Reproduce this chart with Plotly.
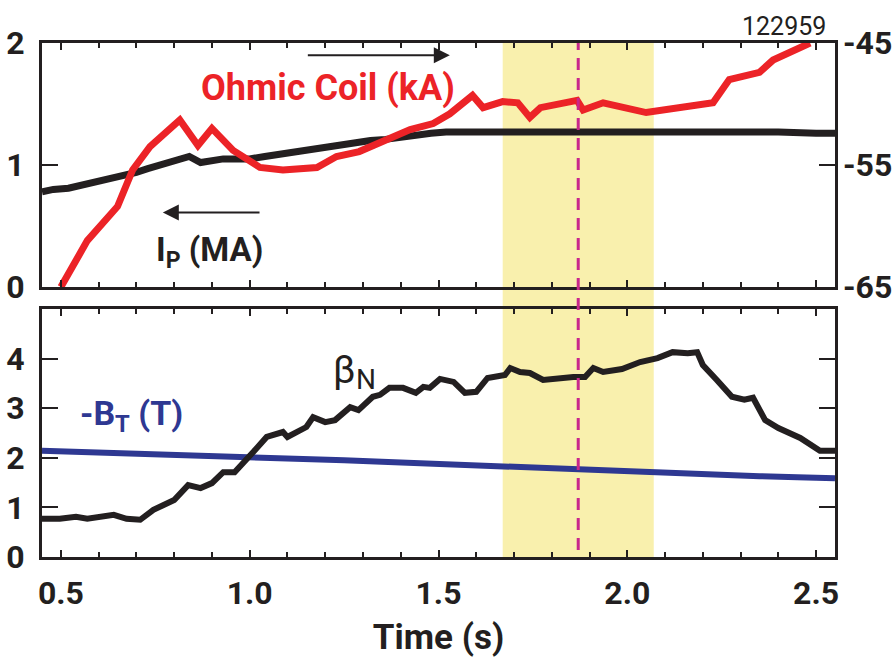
import plotly.graph_objects as go

# ---------------- data ----------------
ip_t = [0.45, 0.48, 0.52, 0.55, 0.58, 0.62, 0.65, 0.68, 0.70, 0.73, 0.76, 0.79, 0.82, 0.84, 0.87,
        0.90, 0.93, 0.96, 1.00, 1.04, 1.08, 1.12, 1.16, 1.20, 1.24, 1.28, 1.32, 1.36, 1.40, 1.44,
        1.48, 1.52, 1.56, 1.60, 1.70, 1.80, 1.90, 2.00, 2.10, 2.20, 2.30, 2.40, 2.50, 2.55]
ip_v = [0.78, 0.80, 0.81, 0.83, 0.85, 0.88, 0.90, 0.92, 0.94, 0.97, 1.00, 1.02, 1.05, 1.07, 1.02,
        1.04, 1.05, 1.05, 1.05, 1.07, 1.09, 1.11, 1.13, 1.15, 1.16, 1.18, 1.20, 1.21, 1.23, 1.25,
        1.26, 1.27, 1.27, 1.28, 1.27, 1.27, 1.28, 1.27, 1.27, 1.27, 1.27, 1.27, 1.26, 1.26]

oh_t = [0.50, 0.57, 0.65, 0.69, 0.736, 0.815, 0.863, 0.90, 0.956, 0.99, 1.027, 1.088, 1.178,
        1.23, 1.29, 1.425, 1.486, 1.53, 1.59, 1.618, 1.67, 1.71, 1.742, 1.77, 1.867, 1.883,
        1.936, 2.05, 2.21, 2.227, 2.27, 2.35, 2.386, 2.484]
oh_v = [-65.0, -61.2, -58.4, -55.4, -53.5, -51.3, -53.4, -52.0, -53.8, -54.4, -55.2, -55.4, -55.2,
        -54.3, -53.9, -52.1, -51.6, -50.8, -49.3, -50.3, -49.8, -49.9, -51.1, -50.3, -49.7, -50.5,
        -49.9, -50.7, -50.1, -49.9, -48.0, -47.4, -46.4, -45.0]

bn_t = [0.45, 0.497, 0.54, 0.57, 0.64, 0.674, 0.71, 0.745, 0.80, 0.837, 0.87, 0.90, 0.93, 0.96,
        1.01, 1.045, 1.088, 1.10, 1.15, 1.168, 1.20, 1.226, 1.266, 1.288, 1.326, 1.345, 1.37,
        1.406, 1.44, 1.46, 1.477, 1.504, 1.54, 1.57, 1.60, 1.63, 1.676, 1.69, 1.716, 1.742,
        1.777, 1.82, 1.857, 1.888, 1.91, 1.936, 1.986, 2.034, 2.08, 2.12, 2.16, 2.185, 2.20,
        2.237, 2.277, 2.31, 2.333, 2.365, 2.40, 2.458, 2.51, 2.55]
bn_v = [0.77, 0.77, 0.81, 0.77, 0.85, 0.77, 0.75, 0.95, 1.15, 1.45, 1.39, 1.49, 1.71, 1.71,
        2.12, 2.42, 2.52, 2.42, 2.62, 2.82, 2.72, 2.76, 3.02, 2.96, 3.23, 3.27, 3.41,
        3.41, 3.31, 3.43, 3.41, 3.59, 3.53, 3.31, 3.33, 3.61, 3.67, 3.81, 3.73, 3.71,
        3.57, 3.61, 3.63, 3.63, 3.81, 3.73, 3.79, 3.93, 4.01, 4.13, 4.11, 4.13, 3.87,
        3.57, 3.23, 3.17, 3.21, 2.76, 2.60, 2.40, 2.14, 2.14]

bt_t = [0.45, 0.55, 0.65, 0.75, 0.85, 0.95, 1.05, 1.15, 1.25, 1.35, 1.45, 1.55, 1.65, 1.75,
        1.85, 1.95, 2.05, 2.15, 2.25, 2.35, 2.45, 2.55]
bt_v = [2.14, 2.12, 2.10, 2.08, 2.06, 2.04, 2.01, 1.98, 1.95, 1.92, 1.89, 1.85, 1.82, 1.79,
        1.76, 1.73, 1.70, 1.68, 1.65, 1.63, 1.61, 1.59]

x_ticks = [0.5, 1.0, 1.5, 2.0, 2.5]
x_ticktext = ["0.5", "1.0", "1.5", "2.0", "2.5"]
ip_ticks = [0, 1, 2]
oh_ticks = [-65, -55, -45]
oh_ticktext = ["-65", "-55", "-45"]
bot_ticks = [0, 1, 2, 3, 4]

window = (1.67, 2.07)
marker_time = 1.87
shot = "122959"

# ---------------- style ----------------
W, H = 893, 661
RED = "#ec2327"
BLUE = "#2e3892"
BLACK = "#231f20"
FONT = "Roboto, Liberation Sans, sans-serif"

def px(x):
    return x / W

def py(y):
    return 1 - y / H

XDOM = [px(42), px(835)]
TOPDOM = [py(287), py(43)]
BOTDOM = [py(557), py(309)]

fig = go.Figure()

fig.add_trace(go.Scatter(x=ip_t, y=ip_v, mode="lines", xaxis="x", yaxis="y",
                         line=dict(color=BLACK, width=7), showlegend=False))
fig.add_trace(go.Scatter(x=oh_t, y=oh_v, mode="lines", xaxis="x", yaxis="y2",
                         line=dict(color=RED, width=7), showlegend=False))
fig.add_trace(go.Scatter(x=bt_t, y=bt_v, mode="lines", xaxis="x2", yaxis="y3",
                         line=dict(color=BLUE, width=6), showlegend=False))
fig.add_trace(go.Scatter(x=bn_t, y=bn_v, mode="lines", xaxis="x2", yaxis="y3",
                         line=dict(color=BLACK, width=6), showlegend=False))

tickfont = dict(family=FONT, size=32, color=BLACK, weight="bold")
xcommon = dict(domain=XDOM, range=[0.45, 2.55], showgrid=False, zeroline=False,
               showline=True, linewidth=3, linecolor=BLACK, mirror="ticks",
               ticks="inside", tickvals=x_ticks, ticklen=7, tickwidth=2, tickcolor=BLACK,
               minor=dict(dtick=0.1, tick0=0.5, ticks="inside", ticklen=5, tickwidth=2,
                          tickcolor=BLACK, showgrid=False),
               automargin=False, fixedrange=True)

fig.update_layout(
    width=W, height=H,
    margin=dict(l=0, r=0, t=0, b=0),
    paper_bgcolor="white", plot_bgcolor="rgba(0,0,0,0)",
    xaxis=dict(**xcommon, anchor="y", showticklabels=False),
    xaxis2=dict(**xcommon, anchor="y3", ticktext=x_ticktext, tickfont=tickfont,
                ticklabelstandoff=6,
                title=dict(text="Time (s)", font=dict(family=FONT, size=35, color=BLACK,
                                                      weight="bold"), standoff=14)),
    yaxis=dict(domain=TOPDOM, range=[0, 2], anchor="x", tickvals=ip_ticks,
               ticks="inside", ticklen=16, tickwidth=2, tickcolor=BLACK,
               showline=True, linewidth=3, linecolor=BLACK, mirror="ticks",
               showgrid=False, zeroline=False, tickfont=tickfont, ticklabelstandoff=8,
               automargin=False),
    yaxis2=dict(overlaying="y", side="right", range=[-65, -45], anchor="x",
                tickvals=oh_ticks, ticktext=oh_ticktext, ticks="", showline=False,
                showgrid=False, zeroline=False,
                tickfont=tickfont, ticklabelstandoff=7, automargin=False),
    yaxis3=dict(domain=BOTDOM, range=[0, 5], anchor="x2", tickvals=bot_ticks,
                ticks="inside", ticklen=16, tickwidth=2, tickcolor=BLACK,
                showline=True, linewidth=3, linecolor=BLACK, mirror="ticks",
                showgrid=False, zeroline=False, tickfont=tickfont, ticklabelstandoff=8,
                automargin=False),
)

# shaded window and marker line spanning both panels
fig.add_shape(type="rect", xref="x", yref="paper", x0=window[0], x1=window[1],
              y0=BOTDOM[0], y1=TOPDOM[1], fillcolor="#f9f0ad", line=dict(width=0),
              layer="below")
fig.add_shape(type="line", xref="x", yref="paper", x0=marker_time, x1=marker_time,
              y0=py(550), y1=TOPDOM[1], line=dict(color="#c8288c", width=3, dash="12px,8px"),
              layer="above")

# arrows
fig.add_annotation(xref="x", yref="y", axref="x", ayref="y", x=1.53, y=1.90,
                   ax=1.15, ay=1.90, text="", showarrow=True, arrowhead=2, arrowsize=1.6,
                   arrowwidth=2, arrowcolor=BLACK)
fig.add_annotation(xref="x", yref="y", axref="x", ayref="y", x=0.77, y=0.61,
                   ax=1.03, ay=0.61, text="", showarrow=True, arrowhead=2, arrowsize=1.6,
                   arrowwidth=2, arrowcolor=BLACK)

def label(text, x, y, size, color, weight="bold", xanchor="center"):
    fig.add_annotation(xref="paper", yref="paper", x=px(x), y=py(y), text=text,
                       showarrow=False, xanchor=xanchor, yanchor="middle",
                       font=dict(family=FONT, size=size, color=color, weight=weight))

label("Ohmic Coil (kA)", 328, 88, 36, RED)
label("I<sub>P</sub> (MA)", 209, 252, 33, BLACK)
label("-B<sub>T</sub> (T)", 131, 415, 34, BLUE)
label("β", 344, 370, 38, BLACK, weight="normal")
label("N", 366, 379, 28, BLACK, weight="normal")
label(shot, 828, 26, 25, BLACK, weight="normal", xanchor="right")

fig.write_html("out.html")
